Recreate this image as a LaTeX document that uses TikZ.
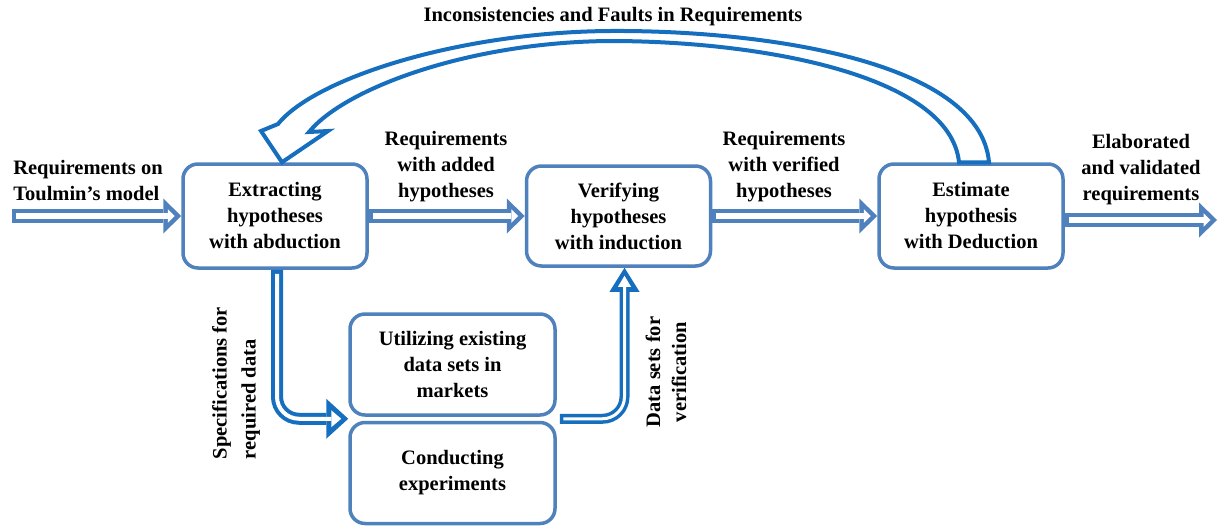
\documentclass[tikz,border=0pt]{standalone}
\usepackage{fontspec}
\setmainfont{Liberation Serif}
\usepackage{tikz}
\usetikzlibrary{arrows.meta, positioning}
\definecolor{boxblue}{RGB}{79,129,189}
\definecolor{arrowblue}{RGB}{22,110,190}
\newcommand{\hollow}[3]{\draw[#1] #3; \draw[#2] #3;}
\tikzset{
        every node/.style={font=\fontsize{20.5}{26}\selectfont\bfseries},
        step box/.style={ % rounded process box
		draw=boxblue, line width=3.5pt, fill=white,
		rounded corners=15pt, align=center,
		minimum width=184pt, minimum height=104pt,
	  },
        note/.style={align=center},
        % straight hollow arrows: blue body, then white hole
        flow/.style={draw=boxblue, line width=14pt,
                -{Triangle[length=18pt, width=35pt, line width=0pt]}},
        flow hole/.style={draw=white, line width=6pt, shorten <=4pt, shorten >=6.5pt,
                -{Triangle[length=7pt, width=13.5pt, line width=0pt]}},
        link/.style={draw=arrowblue, line width=12pt, rounded corners=22pt,
                -{Triangle[length=22pt, width=40pt, line width=0pt]}},
        link hole/.style={draw=white, line width=4pt, rounded corners=22pt,
                shorten <=4pt, shorten >=7pt,
                -{Triangle[length=10pt, width=17pt, line width=0pt]}},
        data/.style={draw=arrowblue, line width=10pt, rounded corners=22pt,
                -{Triangle[length=24pt, width=30pt, line width=0pt]}},
        data hole/.style={draw=white, line width=3pt, rounded corners=22pt,
                shorten <=3.5pt, shorten >=8pt,
                -{Triangle[length=11pt, width=13pt, line width=0pt]}},
        bend arrow/.style={draw=arrowblue, line width=4pt, fill=white, line join=miter},
    }

\begin{document}
\begin{tikzpicture}[x=1pt, y=-1pt, node distance=4pt]
    \useasboundingbox (0,0) rectangle (1218,528);
    \node [step box] (extr) at (275,216) {Extracting\\hypotheses\\with abduction};
    \node [step box, minimum height=100pt, right=156pt of extr] (verif) {Verifying\\hypotheses\\with induction};
    \node [step box, right=165pt of verif] (est) {Estimate\\hypothesis\\with Deduction};
    \node [step box, minimum width=205pt, minimum height=101pt] (util) at (452.5,364.5) {Utilizing existing\\data sets in\\markets};
    \node [step box, minimum width=205pt, minimum height=101pt, below=of util] (cond) {Conducting\\experiments};
    \coordinate [below=2pt of util.south west] (junc);
    \coordinate (in) at (12,216);
    \coordinate (out) at (1217,220);

    \node [note, align=left] (inlab) at (88,181) {Requirements on\\Toulmin’s model};
    \node [note] (addlab) at (446,167) {Requirements\\with added\\hypotheses};
    \node [note] (verlab) at (784,167) {Requirements\\with verified\\hypotheses};
    \node [note] (outlab) at (1141,170) {Elaborated\\and validated\\requirements};
    \node [note] (title) at (613,17) {Inconsistencies and Faults in Requirements};
    \node [note, align=left, rotate=90] (speclab) at (236,383) {Specifications for\\[3pt]required data};
    \node [note, rotate=90] (datalab) at (666,372) {Data sets for\\verification};

    \hollow{flow}{flow hole}{(in) -- (extr)}
    \hollow{flow}{flow hole}{(extr) -- (verif)}
    \hollow{flow}{flow hole}{(verif) -- (est)}
    \hollow{flow}{flow hole}{(est.east |- out) -- (out)}
    \hollow{link}{link hole}{([xshift=2pt]extr.south) |- (junc)}
    \hollow{data}{data hole}{([xshift=3pt]junc -| util.east) -| ([xshift=6pt]verif.south)}

    % feedback arrow from deduction back to abduction
    \draw [bend arrow] ([xshift=18pt]est.north) .. controls (980,60) and (760,30) .. (610,31)
        .. controls (460,32) and (315,78) .. (278,124) -- (261,131) -- ([xshift=7pt]extr.north)
        -- (328,131) -- (309,132) .. controls (345,88) and (470,42) .. (610,41)
        .. controls (760,41) and (950,75) .. ([xshift=-12pt]est.north) -- cycle;
  \end{tikzpicture}
\end{document}
